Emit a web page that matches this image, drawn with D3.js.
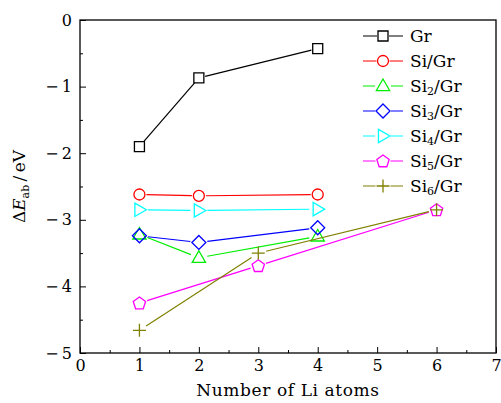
<!DOCTYPE html>
<html>
<head>
<meta charset="utf-8">
<script src="https://cdn.jsdelivr.net/npm/d3@7"></script>
<style>
  html, body { margin: 0; padding: 0; background: #fff; }
  svg { display: block; font-family: "DejaVu Serif", serif; }
</style>
</head>
<body>
<svg id="chart" width="501" height="403"></svg>
<script>
const X_TICKS = [0, 1, 2, 3, 4, 5, 6, 7];
const Y_TICKS = [0, -1, -2, -3, -4, -5];

// x positions of each series
const xGr = [1, 2, 4];
const xSi5 = [1, 3, 6];

// energies (eV)
const yGr = [-1.90, -0.87, -0.43];
const ySi1 = [-2.62, -2.64, -2.62];
const ySi2 = [-3.22, -3.57, -3.25];
const ySi3 = [-3.24, -3.34, -3.12];
const ySi4 = [-2.85, -2.86, -2.84];
const ySi5 = [-4.25, -3.69, -2.85];
const ySi6 = [-4.66, -3.50, -2.85];

const SERIES_NAMES = ["Gr", "Si/Gr", "Si2/Gr", "Si3/Gr", "Si4/Gr", "Si5/Gr", "Si6/Gr"];
const SERIES_COLORS = ["#000000", "#ff0000", "#00ee00", "#0000ff", "#00ffff", "#ff00ff", "#808000"];
const SERIES_MARKERS = ["square", "circle", "triangle", "diamond", "triangleRight", "pentagon", "plus"];

const series = [
  { x: xGr, y: yGr },
  { x: xGr, y: ySi1 },
  { x: xGr, y: ySi2 },
  { x: xGr, y: ySi3 },
  { x: xGr, y: ySi4 },
  { x: xSi5, y: ySi5 },
  { x: xSi5, y: ySi6 }
].map((s, i) => ({
  ...s,
  name: SERIES_NAMES[i],
  color: SERIES_COLORS[i],
  marker: SERIES_MARKERS[i]
}));

const svg = d3.select("#chart");
const MARGIN = { top: 20, right: 5, bottom: 50, left: 80 };
const width = 501, height = 403;
const plotW = width - MARGIN.left - MARGIN.right;
const plotH = height - MARGIN.top - MARGIN.bottom;

const x = d3.scaleLinear().domain([0, 7]).range([MARGIN.left, MARGIN.left + plotW]);
const y = d3.scaleLinear().domain([-5, 0]).range([MARGIN.top + plotH, MARGIN.top]);

const fmt = (d) => (d < 0 ? "\u2212\u2009" + Math.abs(d) : String(d));

// axes with inward ticks
svg.append("g").attr("transform", `translate(0,${MARGIN.top + plotH})`)
  .call(d3.axisBottom(x).tickValues(X_TICKS).tickSize(-6).tickPadding(7).tickFormat(fmt));
svg.append("g").attr("transform", `translate(0,${MARGIN.top + plotH})`)
  .call(d3.axisBottom(x).tickValues(d3.range(0.5, 7, 1)).tickSize(-3).tickFormat(""));
svg.append("g").attr("transform", `translate(${MARGIN.left},0)`)
  .call(d3.axisLeft(y).tickValues(Y_TICKS).tickSize(-6).tickPadding(8).tickFormat(fmt));
svg.append("g").attr("transform", `translate(${MARGIN.left},0)`)
  .call(d3.axisLeft(y).tickValues(d3.range(-4.5, 0, 1)).tickSize(-3).tickFormat(""));

svg.selectAll(".domain").remove();
svg.selectAll(".tick line").attr("stroke", "#000").attr("stroke-width", 1);
svg.selectAll(".tick text").attr("font-size", 16).attr("fill", "#000")
  .attr("font-family", "DejaVu Serif, serif");

svg.append("rect")
  .attr("x", MARGIN.left).attr("y", MARGIN.top)
  .attr("width", plotW).attr("height", plotH)
  .attr("fill", "none").attr("stroke", "#000").attr("stroke-width", 1.3);

// axis titles
svg.append("text")
  .attr("x", x(3.5)).attr("y", 396)
  .attr("text-anchor", "middle").attr("font-size", 17)
  .attr("letter-spacing", 0.6)
  .text("Number of Li atoms");

const yTitle = svg.append("text")
  .attr("transform", `translate(25,${y(-2.5)}) rotate(-90)`)
  .attr("text-anchor", "middle").attr("font-size", 17);
yTitle.append("tspan").text("\u0394");
yTitle.append("tspan").attr("font-style", "italic").text("E");
yTitle.append("tspan").attr("font-size", 11).attr("dy", 4).text("ab");
yTitle.append("tspan").attr("dy", -4).text("\u2009/\u2009eV");

// marker shapes
const MARKER_SIZE = {
  square: 5, circle: 5.5, triangle: 7, diamond: 7, triangleRight: 7, pentagon: 6.5, plus: 6.5
};

function markerPath(type) {
  const r = MARKER_SIZE[type];
  if (type === "square") return `M${-r},${-r}H${r}V${r}H${-r}Z`;
  if (type === "circle") {
    const p = d3.path();
    p.arc(0, 0, r, 0, 2 * Math.PI);
    p.closePath();
    return p.toString();
  }
  if (type === "triangle") return `M0,${-r}L${r * 0.95},${r * 0.65}L${-r * 0.95},${r * 0.65}Z`;
  if (type === "triangleRight") return `M${r},0L${-r * 0.65},${r * 0.95}L${-r * 0.65},${-r * 0.95}Z`;
  if (type === "diamond") return `M0,${-r}L${r},0L0,${r}L${-r},0Z`;
  if (type === "pentagon") {
    const pts = d3.range(5).map((k) => {
      const a = -Math.PI / 2 + k * 2 * Math.PI / 5;
      return [r * Math.cos(a), r * Math.sin(a) + 0.5];
    });
    return "M" + pts.map((p) => p.join(",")).join("L") + "Z";
  }
  if (type === "plus") return `M${-r},0H${r}M0,${-r}V${r}`;
  return "";
}

function drawMarker(g, type, color, cx, cy) {
  g.append("path")
    .attr("d", markerPath(type))
    .attr("transform", `translate(${cx},${cy})`)
    .attr("fill", "none")
    .attr("stroke", color)
    .attr("stroke-width", 1.3);
}

// lines, trimmed so they stop short of the markers
const plot = svg.append("g");
series.forEach((s) => {
  const pts = s.x.map((v, i) => [x(v), y(s.y[i])]);
  const gap = MARKER_SIZE[s.marker] + 1.5;
  for (let i = 0; i < pts.length - 1; i++) {
    const [x0, y0] = pts[i], [x1, y1] = pts[i + 1];
    const len = Math.hypot(x1 - x0, y1 - y0);
    const ux = (x1 - x0) / len, uy = (y1 - y0) / len;
    plot.append("line")
      .attr("x1", x0 + ux * gap).attr("y1", y0 + uy * gap)
      .attr("x2", x1 - ux * gap).attr("y2", y1 - uy * gap)
      .attr("stroke", s.color).attr("stroke-width", 1.2);
  }
  pts.forEach(([px, py]) => drawMarker(plot, s.marker, s.color, px, py));
});

// legend
const legend = svg.append("g");
series.forEach((s, i) => {
  const ly = 36 + i * 25;
  legend.append("line").attr("x1", 363).attr("x2", 403).attr("y1", ly).attr("y2", ly)
    .attr("stroke", s.color).attr("stroke-width", 1.2);
  legend.append("rect").attr("x", 383 - MARKER_SIZE[s.marker] - 1).attr("y", ly - 8)
    .attr("width", 2 * MARKER_SIZE[s.marker] + 2).attr("height", 16).attr("fill", "#fff");
  drawMarker(legend, s.marker, s.color, 383, ly);
  const t = legend.append("text").attr("x", 410).attr("y", ly + 6).attr("font-size", 17);
  const m = s.name.match(/^Si(\d)\/Gr$/);
  if (m) {
    t.append("tspan").text("Si");
    t.append("tspan").attr("font-size", 11).attr("dy", 3).text(m[1]);
    t.append("tspan").attr("dy", -3).text("/Gr");
  } else {
    t.text(s.name);
  }
});
</script>
</body>
</html>
